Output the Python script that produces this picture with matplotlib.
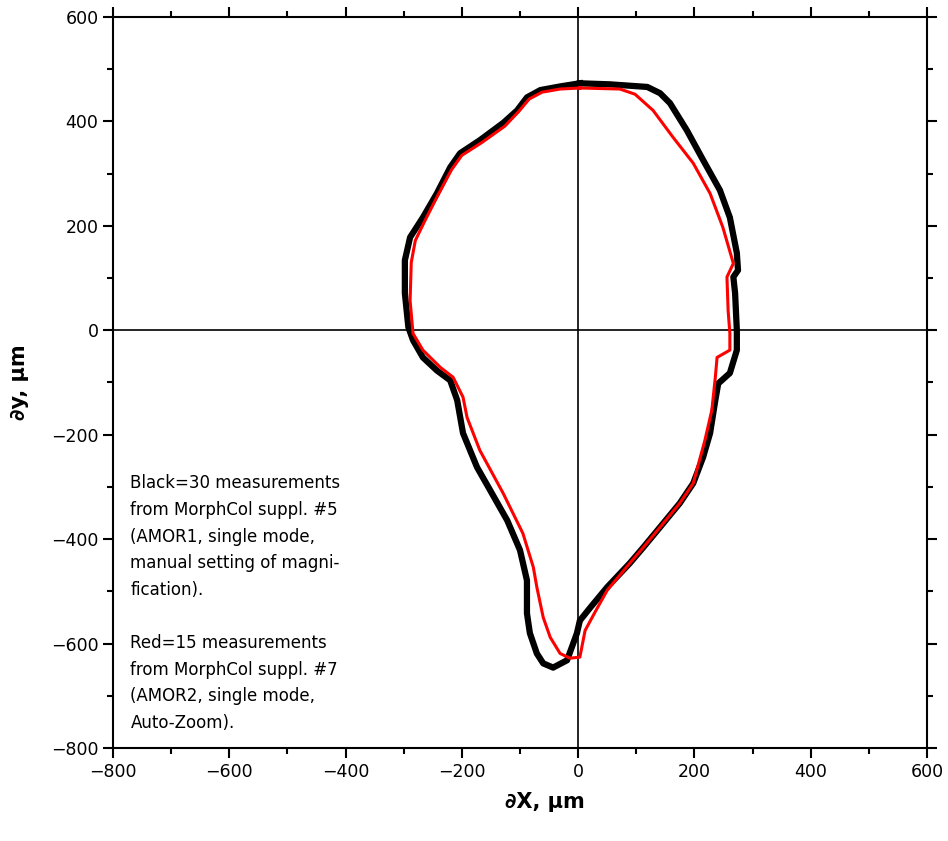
import numpy as np
import matplotlib
matplotlib.use("Agg")
import matplotlib.pyplot as plt
from matplotlib.ticker import MultipleLocator

# outline traced from black measurements (clockwise from top), in micrometres
black_x = [3, 55, 119, 141, 158, 187, 215, 244, 261, 273, 275, 267, 270, 273, 273,
           261, 241, 236, 227, 215, 198, 175, 141, 112, 89, 50, 21, 3, -2, -19,
           -43, -60, -71, -83, -88, -88, -100, -122, -151, -174, -198, -208, -220,
           -243, -267, -284, -292, -298, -298, -289, -267, -243, -220, -203, -169,
           -129, -105, -88, -65, -31, 3]
black_y = [473, 471, 466, 454, 435, 383, 326, 268, 216, 148, 115, 102, 71, 0, -38,
           -82, -102, -134, -197, -243, -293, -331, -377, -416, -446, -492, -531,
           -556, -580, -632, -646, -638, -619, -580, -542, -479, -421, -364, -307,
           -262, -197, -134, -96, -77, -52, -19, 6, 71, 134, 178, 216, 262, 312,
           339, 364, 397, 421, 446, 460, 467, 473]

# outline traced from red measurements
red_x = [3, 72, 98, 129, 163, 198, 227, 249, 267, 256, 258, 261, 261, 239, 236,
         230, 218, 198, 175, 141, 112, 89, 50, 29, 12, 3, -14, -31, -48, -60, -71,
         -77, -95, -129, -169, -191, -198, -215, -237, -267, -284, -289, -287,
         -280, -263, -241, -218, -200, -165, -126, -103, -84, -62, -31, 3]
red_y = [464, 462, 452, 421, 370, 320, 262, 197, 128, 102, 38, -6, -38, -52, -90,
         -153, -211, -293, -331, -377, -416, -446, -498, -540, -575, -626, -628,
         -619, -588, -550, -492, -454, -389, -312, -230, -167, -128, -90, -71, -38,
         -6, 57, 130, 172, 211, 259, 307, 335, 360, 391, 418, 443, 456, 462, 464]

note_lines = ["Black=30 measurements",
              "from MorphCol suppl. #5",
              "(AMOR1, single mode,",
              "manual setting of magni-",
              "fication).",
              "",
              "Red=15 measurements",
              "from MorphCol suppl. #7",
              "(AMOR2, single mode,",
              "Auto-Zoom)."]

fig = plt.figure(figsize=(9.48, 8.41), dpi=100)
ax = fig.add_axes([0.1192, 0.1106, 0.8586, 0.8692])

ax.axhline(0, color="black", lw=1.2, zorder=1)
ax.axvline(0, color="black", lw=1.2, zorder=1)

ax.plot(black_x, black_y, color="black", lw=4.5, solid_joinstyle="round", zorder=2)
ax.plot(black_x, black_y, color="black", lw=0, marker="s", ms=2, zorder=2)
ax.plot(red_x, red_y, color="red", lw=2.2, solid_joinstyle="round", zorder=3)

ax.set_xlim(-800, 600)
ax.set_ylim(-800, 600)
ax.xaxis.set_major_locator(MultipleLocator(200))
ax.xaxis.set_minor_locator(MultipleLocator(100))
ax.yaxis.set_major_locator(MultipleLocator(200))
ax.yaxis.set_minor_locator(MultipleLocator(100))
ax.tick_params(which="both", direction="out", top=True, right=True,
               labeltop=False, labelright=False, width=1.5, labelsize=12.5)
ax.tick_params(which="major", length=7)
ax.tick_params(which="minor", length=4)
for s in ax.spines.values():
    s.set_linewidth(1.5)

ax.set_xlabel("\u2202X, \u00b5m", fontsize=15, fontweight="bold")
ax.xaxis.set_label_coords(0.53, -0.06)
ax.set_ylabel("\u2202y, \u00b5m", fontsize=15, fontweight="bold", labelpad=16)

# note text, one line at a time
y0 = -293
step = 51
for i, line in enumerate(note_lines):
    ax.text(-770, y0 - i * step, line, fontsize=12, va="center", ha="left")

fig.savefig("out.png", dpi=100)
